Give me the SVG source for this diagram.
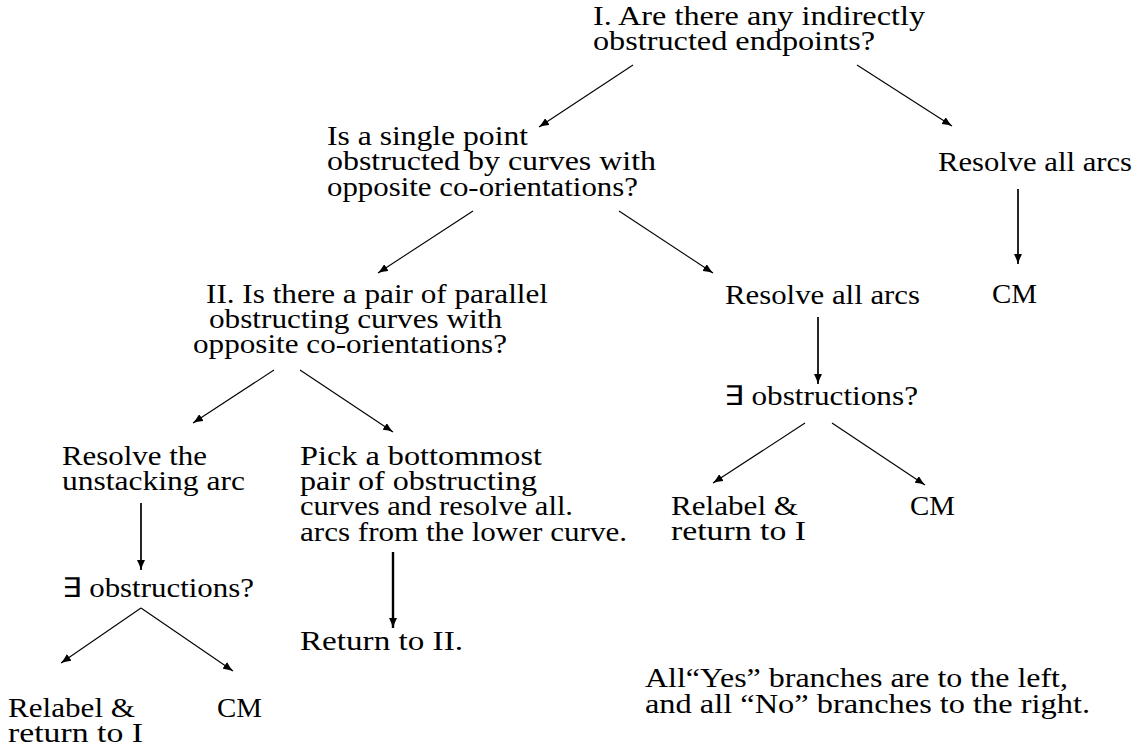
<svg xmlns="http://www.w3.org/2000/svg" width="1142" height="751" viewBox="0 0 1142 751">
<style>
text{font-family:"Liberation Serif","Times New Roman",serif;font-size:27px;fill:#000}
.c line{stroke:#000;stroke-width:1.1;marker-end:url(#ah)}
.c line.v{stroke-width:1.7}
.c line.b{stroke-width:2.4}
</style>
<defs>
<marker id="ah" viewBox="0 0 10 8" refX="10" refY="4" markerWidth="10" markerHeight="8" markerUnits="userSpaceOnUse" orient="auto">
<path d="M0,0 Q5,2.6 10,4 Q5,5.4 0,8 Z" fill="#000"/>
</marker>
</defs>
<rect width="1142" height="751" fill="#fff"/>
<g class="c" id="connectors">
<line x1="633" y1="65" x2="539" y2="127"/>
<line x1="857" y1="65" x2="952" y2="126"/>
<line x1="473" y1="211" x2="378" y2="273"/>
<line x1="619" y1="211" x2="713" y2="273"/>
<line class="v" x1="1018" y1="189" x2="1018" y2="264"/>
<line class="v" x1="818" y1="317" x2="818" y2="384"/>
<line x1="274" y1="370" x2="193" y2="423"/>
<line x1="300" y1="370" x2="393" y2="432"/>
<line class="v" x1="141" y1="503" x2="141" y2="570"/>
<line class="b" x1="393" y1="552" x2="393" y2="628"/>
<line x1="805" y1="423" x2="713" y2="483"/>
<line x1="832" y1="423" x2="925" y2="485"/>
<line x1="141" y1="608" x2="61" y2="663"/>
<line x1="141" y1="608" x2="233" y2="671"/>
</g>
<g id="n-root"><text x="593" y="25" textLength="332" lengthAdjust="spacingAndGlyphs">I. Are there any indirectly</text><text x="593" y="50" textLength="282" lengthAdjust="spacingAndGlyphs">obstructed endpoints?</text></g>
<g id="n-single"><text x="327" y="145" textLength="201" lengthAdjust="spacingAndGlyphs">Is a single point</text><text x="327" y="170" textLength="329" lengthAdjust="spacingAndGlyphs">obstructed by curves with</text><text x="327" y="196" textLength="311" lengthAdjust="spacingAndGlyphs">opposite co-orientations?</text></g>
<g id="n-resolve1"><text x="938" y="171" textLength="194" lengthAdjust="spacingAndGlyphs">Resolve all arcs</text></g>
<g id="n-cm1"><text x="992" y="303" textLength="45" lengthAdjust="spacingAndGlyphs">CM</text></g>
<g id="n-ii"><text x="206" y="303" textLength="342" lengthAdjust="spacingAndGlyphs">II. Is there a pair of parallel</text><text x="209" y="328" textLength="293" lengthAdjust="spacingAndGlyphs">obstructing curves with</text><text x="193" y="353" textLength="314" lengthAdjust="spacingAndGlyphs">opposite co-orientations?</text></g>
<g id="n-resolve2"><text x="725" y="304" textLength="195" lengthAdjust="spacingAndGlyphs">Resolve all arcs</text></g>
<g id="n-exists2"><text x="724" y="405" textLength="194" lengthAdjust="spacingAndGlyphs">∃ obstructions?</text></g>
<g id="n-relabel2"><text x="671" y="515" textLength="127" lengthAdjust="spacingAndGlyphs">Relabel &amp;</text><text x="671" y="540" textLength="135" lengthAdjust="spacingAndGlyphs">return to I</text></g>
<g id="n-cm2"><text x="910" y="515" textLength="45" lengthAdjust="spacingAndGlyphs">CM</text></g>
<g id="n-unstack"><text x="62" y="465" textLength="145" lengthAdjust="spacingAndGlyphs">Resolve the</text><text x="62" y="490" textLength="183" lengthAdjust="spacingAndGlyphs">unstacking arc</text></g>
<g id="n-pick"><text x="300" y="465" textLength="242" lengthAdjust="spacingAndGlyphs">Pick a bottommost</text><text x="300" y="490" textLength="237" lengthAdjust="spacingAndGlyphs">pair of obstructing</text><text x="300" y="515" textLength="273" lengthAdjust="spacingAndGlyphs">curves and resolve all.</text><text x="300" y="541" textLength="327" lengthAdjust="spacingAndGlyphs">arcs from the lower curve.</text></g>
<g id="n-exists1"><text x="62" y="597" textLength="192" lengthAdjust="spacingAndGlyphs">∃ obstructions?</text></g>
<g id="n-return2"><text x="300" y="650" textLength="163" lengthAdjust="spacingAndGlyphs">Return to II.</text></g>
<g id="n-relabel1"><text x="8" y="717" textLength="127" lengthAdjust="spacingAndGlyphs">Relabel &amp;</text><text x="8" y="742" textLength="135" lengthAdjust="spacingAndGlyphs">return to I</text></g>
<g id="n-cm3"><text x="217" y="717" textLength="45" lengthAdjust="spacingAndGlyphs">CM</text></g>
<g id="n-note"><text x="645" y="687" textLength="423" lengthAdjust="spacingAndGlyphs">All“Yes” branches are to the left,</text><text x="645" y="713" textLength="445" lengthAdjust="spacingAndGlyphs">and all “No” branches to the right.</text></g>
</svg>
